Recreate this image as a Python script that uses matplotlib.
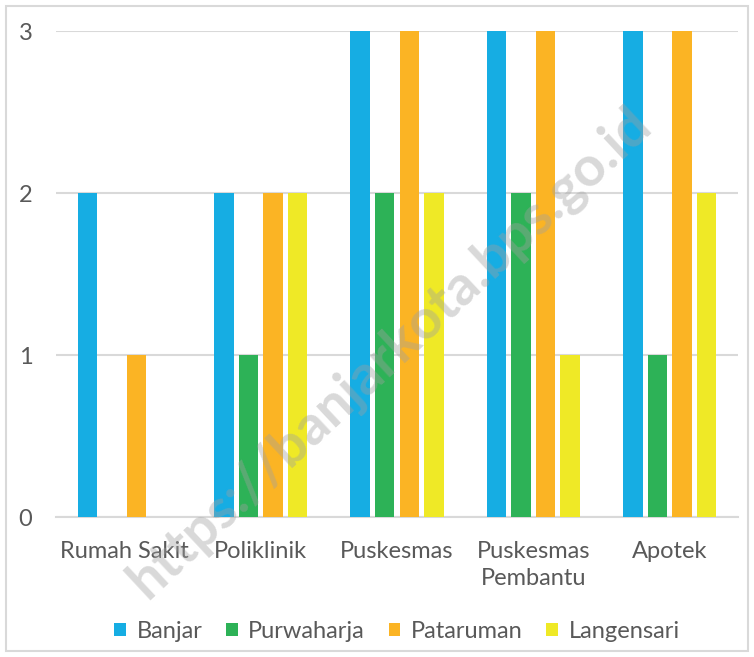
import matplotlib.pyplot as plt
import numpy as np
from matplotlib.patches import Rectangle

plt.rcParams['font.family'] = ['Lato', 'DejaVu Sans']

categories = ['Rumah Sakit', 'Poliklinik', 'Puskesmas', 'Puskesmas\nPembantu', 'Apotek']
series_names = ['Banjar', 'Purwaharja', 'Pataruman', 'Langensari']
banjar = [2, 2, 3, 3, 3]
purwaharja = [0, 1, 2, 2, 1]
pataruman = [1, 2, 3, 3, 3]
langensari = [0, 2, 2, 1, 2]
colors = ['#16ADE3', '#2DB257', '#FBB424', '#EFE926']

fig = plt.figure(figsize=(7.54, 6.57), dpi=100)
ax = fig.add_axes([56/754, 1 - 517/657, (738-56)/754, (517-31)/657])

x = np.arange(len(categories))
step = 0.18
width = 0.143
for i, (vals, name) in enumerate(zip([banjar, purwaharja, pataruman, langensari], series_names)):
    ax.bar(x + (i - 1.5) * step, vals, width, color=colors[i], label=name, zorder=3)

ax.set_xlim(-0.5, len(categories) - 0.5)
ax.set_ylim(0, 3)
ax.set_yticks([0, 1, 2, 3])
ax.grid(axis='y', color='#D9D9D9', linewidth=1.5, zorder=0)
for s in ['top', 'right', 'left']:
    ax.spines[s].set_visible(False)
ax.spines['bottom'].set_color('#D9D9D9')
ax.spines['bottom'].set_linewidth(1.5)
ax.set_xticks(x)
ax.set_xticklabels(categories, fontsize=17, color='#595959', linespacing=1.35)
ax.tick_params(axis='y', labelsize=17, labelcolor='#595959', length=0, pad=17)
ax.tick_params(axis='x', length=0, pad=17)

ax.legend(loc='center', bbox_to_anchor=(0.5, -0.235), ncol=4, frameon=False,
          fontsize=17, labelcolor='#595959', handlelength=0.5, handleheight=0.5,
          handletextpad=0.45, columnspacing=1.0)

# figure border
fig.patches.append(Rectangle((6/754, 6/657), 742/754, 645/657, transform=fig.transFigure,
                             fill=False, edgecolor='#D9D9D9', linewidth=1.5))

# watermark
fig.text(0.517, 0.464, 'https://banjarkota.bps.go.id', fontsize=40, fontweight='bold',
         color='#A0A0A0', alpha=0.4, rotation=43, ha='center', va='center', zorder=10)

fig.savefig('out.png', dpi=100)
